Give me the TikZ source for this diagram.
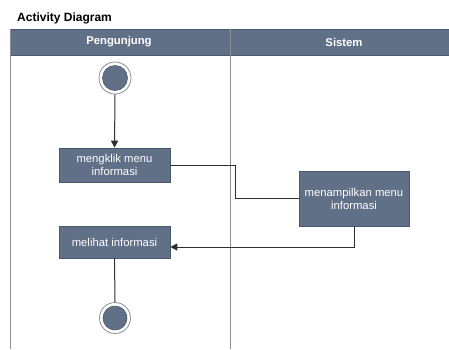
\documentclass[tikz,border=0pt]{standalone}
\usepackage{fontspec}
\setmainfont{Liberation Sans}
\usetikzlibrary{arrows.meta}
\definecolor{slate}{HTML}{5F7087}
\definecolor{slatedark}{HTML}{4A586B}
\definecolor{lanegray}{HTML}{8A8F96}
\definecolor{wire}{HTML}{2E2E2E}
\tikzset{
  actbox/.style={draw=slatedark, line width=0.6pt, fill=slate, text=white, font=\fontsize{11.3}{13}\selectfont, align=center, inner sep=0pt},
  lanehead/.style={text=white, font=\bfseries\fontsize{11.3}{13}\selectfont},
  wireline/.style={draw=wire, line width=1pt},
  flow/.style={wireline, -{Triangle[width=7pt,length=7pt]}},
  laneline/.style={draw=lanegray, line width=0.8pt},
  ring/.style={circle, draw=lanegray, line width=0.8pt, fill=white, minimum size=32pt, inner sep=0pt},
  dot/.style={circle, draw=slatedark, line width=0.6pt, fill=slate, minimum size=25pt, inner sep=0pt}
}
\begin{document}
\begin{tikzpicture}[x=1pt, y=-1pt]
\useasboundingbox (0,0) rectangle (449,349);
% title
\node[anchor=west, font=\bfseries\fontsize{12}{14}\selectfont, inner sep=0pt] (title) at (17,18) {Activity Diagram};
% header band
\fill[slate] (10,29) rectangle (449,55);
\draw[slatedark, line width=0.6pt] (10,29) -- (449,29) (10,55) -- (449,55);
\node[lanehead] (h1) at (119,42) {Pengunjung};
\node[lanehead] (h2) at (344,42) {Sistem};
% lane lines
\draw[laneline] (10,29) -- (10,349);
\draw[laneline] (230,29) -- (230,349);
% start
\node[ring] (startring) at (115,78) {};
\node[dot] (start) at (115,78) {};
% activities
\node[actbox, minimum width=111pt, minimum height=34pt] (a1) at (114.5,165) {mengklik menu\\informasi};
\node[actbox, minimum width=110pt, minimum height=55pt] (a2) at (354,198.5) {menampilkan menu\\informasi};
\node[actbox, minimum width=111pt, minimum height=32pt] (a3) at (114.5,242) {melihat informasi};
% end
\node[ring, minimum size=31pt] (endring) at (115,318) {};
\node[dot, minimum size=24pt] (end) at (115,318) {};
% connectors
\draw[flow] (startring.south) -- (a1.north);
\draw[wireline] (a1.east) -- ++(65,0) |- (a2.west);
\draw[flow] (a2.south) |- ([yshift=-5pt]a3.east);
\draw[wireline] (a3.south) -- (endring.north);
\end{tikzpicture}
\end{document}
